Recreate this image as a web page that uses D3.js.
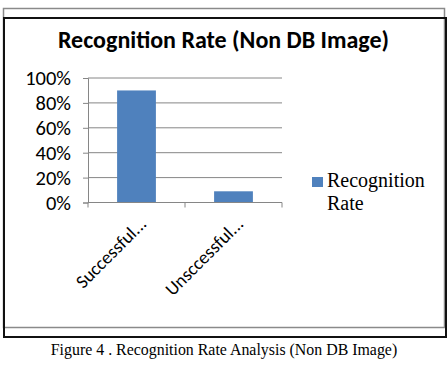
<!DOCTYPE html>
<html><head><meta charset="utf-8">
<script src="https://cdn.jsdelivr.net/npm/d3@7"></script>
<style>body{margin:0;background:#fff}svg{display:block}</style>
</head><body>
<script>
const categories = ["Successful...", "Unsccessful..."];
const values = [0.90, 0.09];
const yTicks = [0, 0.2, 0.4, 0.6, 0.8, 1.0];
const seriesName = ["Recognition", "Rate"];
const title = "Recognition Rate (Non DB Image)";
const caption = "Figure 4 . Recognition Rate Analysis (Non DB Image)";

const svg = d3.select("body").append("svg").attr("width", 448).attr("height", 366);
svg.append("rect").attr("width", 448).attr("height", 366).attr("fill", "#fff");

// frames
svg.append("rect").attr("x", 3.5).attr("y", 8.5).attr("width", 441).attr("height", 319)
  .attr("fill", "none").attr("stroke", "#8a8a8a").attr("stroke-width", 1.5);
svg.append("rect").attr("x", 4).attr("y", 18).attr("width", 442).attr("height", 319)
  .attr("fill", "none").attr("stroke", "#111").attr("stroke-width", 2);

const font = "Carlito, Calibri, 'Open Sans', 'Liberation Sans', sans-serif";

svg.append("text").attr("x", 223.5).attr("y", 48).attr("text-anchor", "middle")
  .attr("font-family", font).attr("font-weight", "bold").attr("font-size", 24)
  .attr("fill", "#000").text(title);

const x = d3.scaleBand().domain(categories).range([88, 282]).paddingInner(0.6).paddingOuter(0.3);
const y = d3.scaleLinear().domain([0, 1]).range([202.5, 78]);

// gridlines
svg.append("g").selectAll("line").data(yTicks.filter(d => d > 0)).join("line")
  .attr("x1", 88).attr("x2", 282).attr("y1", d => y(d)).attr("y2", d => y(d))
  .attr("stroke", "#868686").attr("stroke-width", 1);

// y axis
const yAxis = svg.append("g").attr("transform", "translate(88,0)")
  .call(d3.axisLeft(y).tickValues(yTicks).tickFormat(d3.format(".0%")).tickSize(5).tickPadding(12));
yAxis.selectAll("path, line").attr("stroke", "#868686");
yAxis.selectAll("text").attr("font-family", font).attr("font-size", 20.5).attr("fill", "#000");

// bars
svg.append("g").selectAll("rect").data(values).join("rect")
  .attr("x", (d, i) => x(categories[i])).attr("width", x.bandwidth())
  .attr("y", d => y(d)).attr("height", d => y(0) - y(d)).attr("fill", "#4f81bd");

// x axis
const xAxis = svg.append("g").attr("transform", "translate(0,202.5)")
  .call(d3.axisBottom(x).tickSize(0).tickFormat(""));
xAxis.select("path").attr("stroke", "#868686").attr("d", "M88,0H282");
const bounds = [88, 88 + x.step(), 282];
xAxis.selectAll(".sep").data(bounds).join("line").attr("class", "sep")
  .attr("x1", d => d).attr("x2", d => d).attr("y1", 0).attr("y2", 5).attr("stroke", "#868686");
svg.append("g").selectAll("text").data(categories).join("text")
  .attr("transform", d => `translate(${x(d) + x.bandwidth() / 2 + 11},225) rotate(-45)`)
  .attr("text-anchor", "end").attr("font-family", font).attr("font-size", 18.5).attr("fill", "#000")
  .text(d => d);

// legend
svg.append("rect").attr("x", 312).attr("y", 177).attr("width", 11).attr("height", 10).attr("fill", "#4f81bd");
svg.append("g").selectAll("text").data(seriesName).join("text")
  .attr("x", 327).attr("y", (d, i) => 187 + i * 23)
  .attr("font-family", "'Liberation Serif', 'Times New Roman', serif").attr("font-size", 20)
  .attr("fill", "#000").text(d => d);

// caption
svg.append("text").attr("x", 224).attr("y", 355).attr("text-anchor", "middle")
  .attr("font-family", "'Liberation Serif', 'Times New Roman', serif").attr("font-size", 15.9)
  .attr("fill", "#000").text(caption);
</script>
</body></html>
